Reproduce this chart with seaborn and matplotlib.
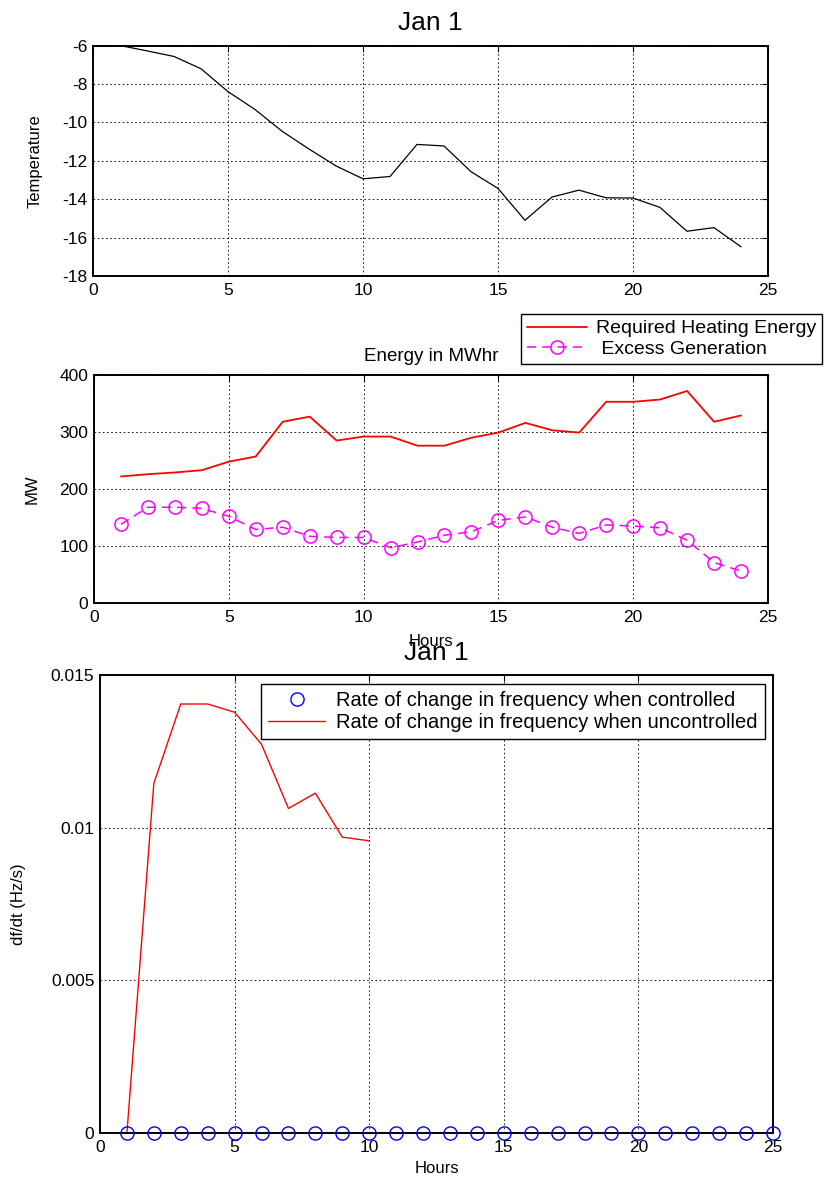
import matplotlib
matplotlib.use("Agg")
import matplotlib.pyplot as plt
import seaborn as sns
import pandas as pd

# Hourly data for January 1
hours = list(range(1, 25))
temperature = [-6.0, -6.28, -6.57, -7.21, -8.40, -9.33, -10.46, -11.39, -12.27, -12.94,
               -12.82, -11.15, -11.23, -12.57, -13.44, -15.10, -13.89, -13.53, -13.93,
               -13.94, -14.43, -15.67, -15.48, -16.48]
heating_energy = [222, 226, 229, 233, 248, 257, 318, 327, 285, 292, 292, 276, 276, 290,
                  299, 316, 303, 299, 353, 353, 357, 372, 318, 329]
excess_generation = [138, 168, 168, 166, 152, 129, 133, 117, 115, 115, 97, 107, 119, 125,
                     145, 151, 133, 122, 137, 135, 132, 110, 71, 56]

rocof_hours = list(range(1, 11))
rocof_uncontrolled = [0.0, 0.01145, 0.01405, 0.01405, 0.01378, 0.01273, 0.01063, 0.01113,
                      0.00969, 0.00957]
controlled_hours = list(range(1, 26))
rocof_controlled = [0.0] * 25

x_ticks = [0, 5, 10, 15, 20, 25]
temp_ticks = [-18, -16, -14, -12, -10, -8, -6]
mw_ticks = [0, 100, 200, 300, 400]
rocof_ticks = [0, 0.005, 0.01, 0.015]
rocof_tick_labels = ["0", "0.005", "0.01", "0.015"]

sns.set_style("white")
plt.rcParams["font.family"] = ["Liberation Sans", "DejaVu Sans"]
plt.rcParams["axes.unicode_minus"] = False
for key in ("text.color", "axes.labelcolor", "xtick.color", "ytick.color", "axes.edgecolor"):
    plt.rcParams[key] = "black"

W, H = 824, 1182
fig = plt.figure(figsize=(W / 100, H / 100), dpi=100)


def box(left, top, right, bottom):
    return [left / W, 1 - bottom / H, (right - left) / W, (bottom - top) / H]


def style_axes(ax, yticks, ylim, ylabels=None):
    ax.set_xlim(0, 25)
    ax.set_xticks(x_ticks)
    ax.set_ylim(*ylim)
    ax.set_yticks(yticks)
    if ylabels is not None:
        ax.set_yticklabels(ylabels)
    ax.grid(True, color="black", linestyle=(0, (1.6, 2.4)), linewidth=0.75, alpha=0.85)
    ax.tick_params(direction="in", top=True, right=True, length=4, width=0.8,
                   labelsize=12.5, colors="black")
    ax.tick_params(axis="x", pad=5)
    ax.tick_params(axis="y", pad=4)
    for s in ax.spines.values():
        s.set_linewidth(1.4)
        s.set_color("black")
        s.set_visible(True)
    ax.set_facecolor("white")


# --- Temperature ---
ax1 = fig.add_axes(box(93, 45.5, 768, 276))
df_t = pd.DataFrame({"Hour": hours, "Temperature": temperature})
sns.lineplot(data=df_t, x="Hour", y="Temperature", color="black", linewidth=0.9, ax=ax1)
style_axes(ax1, temp_ticks, (-18, -6))
ax1.set_xlabel("")
ax1.set_ylabel("Temperature", fontsize=12)
ax1.yaxis.set_label_coords(-0.075, 0.5)
ax1.set_title("Jan 1", fontsize=19, pad=11)

# --- Energy ---
ax2 = fig.add_axes(box(94, 375, 768, 603))
df_e = pd.DataFrame({"Hour": hours, "Heating": heating_energy, "Excess": excess_generation})
sns.lineplot(data=df_e, x="Hour", y="Heating", color="red", linewidth=1.3, ax=ax2)
sns.lineplot(data=df_e, x="Hour", y="Excess", color="magenta", linewidth=1.1,
             linestyle=(0, (6, 4)), marker="o", markersize=9.5,
             markerfacecolor="none", markeredgecolor="magenta", markeredgewidth=1.1, ax=ax2)
style_axes(ax2, mw_ticks, (0, 400))
ax2.set_xlabel("Hours", fontsize=12)
ax2.xaxis.set_label_coords(0.5, -0.135)
ax2.set_ylabel("MW", fontsize=12)
ax2.yaxis.set_label_coords(-0.08, 0.5)
ax2.set_title("Energy in MWhr", fontsize=13.5, pad=10)
lines2 = ax2.get_lines()
leg2 = ax2.legend([lines2[0], lines2[1]], ["Required Heating Energy", " Excess Generation"],
                  loc="upper right", bbox_to_anchor=(822 / W, 1 - 314 / H),
                  bbox_transform=fig.transFigure, frameon=True, fancybox=False,
                  edgecolor="black", framealpha=1, fontsize=14, handlelength=3.1,
                  handletextpad=0.45, borderpad=0.3, labelspacing=0.15, borderaxespad=0)
leg2.get_frame().set_linewidth(1.0)

# --- Rate of change of frequency ---
ax3 = fig.add_axes(box(100, 675, 773, 1133))
df_c = pd.DataFrame({"Hour": controlled_hours, "Controlled": rocof_controlled})
df_u = pd.DataFrame({"Hour": rocof_hours, "Uncontrolled": rocof_uncontrolled})
sns.lineplot(data=df_c, x="Hour", y="Controlled", linestyle="none", marker="o",
             markersize=9.5, markerfacecolor="none", markeredgecolor="blue",
             markeredgewidth=1.0, color="blue", clip_on=False, zorder=4, ax=ax3)
sns.lineplot(data=df_u, x="Hour", y="Uncontrolled", color="red", linewidth=1.0, ax=ax3)
style_axes(ax3, rocof_ticks, (0, 0.015), rocof_tick_labels)
ax3.set_xlabel("Hours", fontsize=12)
ax3.xaxis.set_label_coords(0.5, -0.062)
ax3.set_ylabel("df/dt (Hz/s)", fontsize=12)
ax3.yaxis.set_label_coords(-0.11, 0.5)
ax3.set_title("Jan 1", fontsize=19, pad=11)
lines3 = ax3.get_lines()
leg3 = ax3.legend([lines3[0], lines3[1]],
                  ["Rate of change in frequency when controlled",
                   "Rate of change in frequency when uncontrolled"],
                  loc="upper right", bbox_to_anchor=(765 / W, 1 - 684 / H),
                  bbox_transform=fig.transFigure, frameon=True, fancybox=False,
                  edgecolor="black", framealpha=1, fontsize=14.5, handlelength=2.85,
                  handletextpad=0.55, borderpad=0.35, labelspacing=0.15, borderaxespad=0)
leg3.get_frame().set_linewidth(1.0)

fig.savefig("out.png", dpi=100)
